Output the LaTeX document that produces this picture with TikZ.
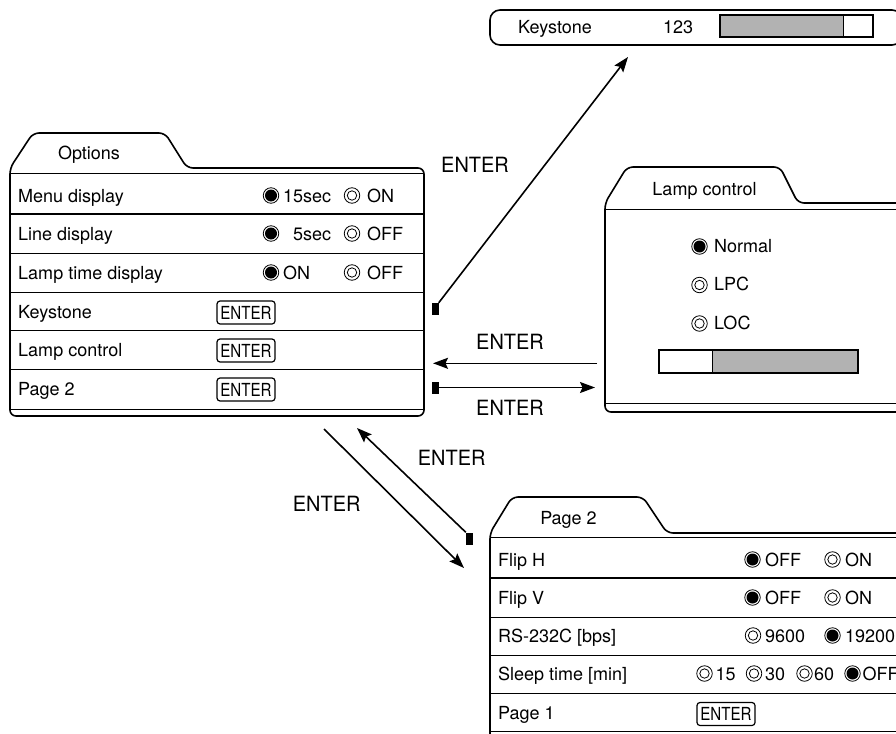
\documentclass[tikz,border=0pt]{standalone}
\usepackage{fontspec}
\usepackage{graphicx}
\setmainfont{TeX Gyre Heros}
\usetikzlibrary{arrows.meta}
\definecolor{bargray}{gray}{0.70}
\begin{document}
\begin{tikzpicture}[x=1pt,y=-1pt,
  outline/.style={line width=1.6pt, rounded corners=6pt},
  thinline/.style={line width=0.8pt},
  thickline/.style={line width=2.4pt},
  lbl/.style={anchor=base west, inner sep=0pt, font=\fontsize{18}{20}\selectfont},
  ttl/.style={anchor=base, inner sep=0pt, font=\fontsize{18}{20}\selectfont},
  albl/.style={anchor=base, inner sep=0pt, font=\fontsize{21}{22}\selectfont},
  radon/.style={circle, draw, line width=0.8pt, minimum size=15.5pt, inner sep=0pt,
    path picture={\fill (path picture bounding box.center) circle (6pt);}},
  radoff/.style={circle, draw, line width=0.8pt, minimum size=15.5pt, inner sep=0pt,
    path picture={\draw[line width=0.8pt] (path picture bounding box.center) circle (4.7pt);}},
  btn/.style={draw, line width=1.2pt, rounded corners=3pt, minimum width=58pt,
    minimum height=23pt, inner sep=0pt, font=\fontsize{18}{18}\selectfont},
  marker/.style={fill=black, draw=none, minimum width=7pt, minimum height=12pt, inner sep=0pt},
  arr/.style={line width=1.6pt, -{Stealth[length=15pt,width=11pt,inset=2.5pt]}}
]
\useasboundingbox (0,0) rectangle (896,733);
\clip (0,0) rectangle (896,733);

% ---------- Options panel ----------
\draw[outline] (10,300) -- (10,168) -- (33,133) -- (165,133) -- (187,168) -- (424,168) -- (424,416) -- (10,416) -- cycle;
\draw[thinline] (10,173) -- (424,173);
\draw[thickline] (10,214) -- (424,214);
\foreach \yy in {253,292,330,369} \draw[thinline] (10,\yy) -- (424,\yy);
\draw[thinline] (10,409) -- (424,409);
\node[ttl] (opttitle) at (89,159) {Options};

\node[lbl] (o1) at (18,202) {Menu display};
\node[radon] (o1a) at (271,195.5) {};
\node[lbl] (o1at) at (283,202) {15sec};
\node[radoff] (o1b) at (352,195.5) {};
\node[lbl] (o1bt) at (367,202) {ON};

\node[lbl] (o2) at (18,240) {Line display};
\node[radon] (o2a) at (271,233.5) {};
\node[lbl] (o2at) at (293,240) {5sec};
\node[radoff] (o2b) at (352,233.5) {};
\node[lbl] (o2bt) at (367,240) {OFF};

\node[lbl] (o3) at (18,279) {Lamp time display};
\node[radon] (o3a) at (271,272.5) {};
\node[lbl] (o3at) at (283,279) {ON};
\node[radoff] (o3b) at (352,272.5) {};
\node[lbl] (o3bt) at (367,279) {OFF};

\node[lbl] (o4) at (18,318) {Keystone};
\node[btn] (o4b) at (246,312.5) {\scalebox{0.84}[1]{ENTER}};
\node[lbl] (o5) at (18,356) {Lamp control};
\node[btn] (o5b) at (246,350.5) {\scalebox{0.84}[1]{ENTER}};
\node[lbl] (o6) at (18,395) {Page 2};
\node[btn] (o6b) at (246,389.5) {\scalebox{0.84}[1]{ENTER}};

% ---------- Keystone bar ----------
\draw[outline, rounded corners=10pt] (490,10) rectangle (902,45);
\node[lbl] (kst) at (518,34) {Keystone};
\node[lbl] (kval) at (663,34) {123};
\fill[bargray] (720,15) rectangle (843,37);
\draw[thinline] (843,15) -- (843,37);
\draw[line width=1.4pt] (720,15) rectangle (873,37);

% ---------- Lamp control panel ----------
\draw[outline] (910,203) -- (798,203) -- (780,167) -- (627,167) -- (605,203) -- (605,412) -- (910,412);
\draw[thinline] (605,209) -- (900,209);
\draw[thinline] (605,403) -- (900,403);
\node[ttl] (lctitle) at (704.5,195) {Lamp control};
\node[radon] (l1) at (699.5,246.5) {};
\node[lbl] (l1t) at (714,252.3) {Normal};
\node[radoff] (l2) at (699.5,285) {};
\node[lbl] (l2t) at (714,290.7) {LPC};
\node[radoff] (l3) at (699.5,323.5) {};
\node[lbl] (l3t) at (714,329) {LOC};
\fill[bargray] (712,350) rectangle (858,373);
\draw[thinline] (712,350) -- (712,373);
\draw[line width=1.4pt] (659,350) rectangle (858,373);

% ---------- Page 2 panel ----------
\draw[outline] (910,533) -- (667,533) -- (643,497) -- (512,497) -- (490,533) -- (490,745);
\draw[thinline] (490,537.5) -- (900,537.5);
\draw[thickline] (490,578) -- (900,578);
\foreach \yy in {617,655,693,731.5} \draw[thinline] (490,\yy) -- (900,\yy);
\node[ttl] (p2title) at (568.5,524.3) {Page 2};

\node[lbl] (p1) at (498,566) {Flip H};
\node[radon] (p1a) at (752.5,559.5) {};
\node[lbl] (p1at) at (765,566) {OFF};
\node[radoff] (p1b) at (832.5,559.5) {};
\node[lbl] (p1bt) at (845,566) {ON};

\node[lbl] (p2) at (498,604) {Flip V};
\node[radon] (p2a) at (752.5,597.5) {};
\node[lbl] (p2at) at (765,604) {OFF};
\node[radoff] (p2b) at (832.5,597.5) {};
\node[lbl] (p2bt) at (845,604) {ON};

\node[lbl] (p3) at (498,642) {RS-232C [bps]};
\node[radoff] (p3a) at (753,635.5) {};
\node[lbl] (p3at) at (765,642) {9600};
\node[radon] (p3b) at (832.5,635.5) {};
\node[lbl] (p3bt) at (845,642) {19200};

\node[lbl] (p4) at (498,680) {Sleep time [min]};
\node[radoff] (p4a) at (704.5,673.5) {};
\node[lbl] (p4at) at (715.5,680) {15};
\node[radoff] (p4b) at (754,673.5) {};
\node[lbl] (p4bt) at (765,680) {30};
\node[radoff] (p4c) at (804.5,673.5) {};
\node[lbl] (p4ct) at (814,680) {60};
\node[radon] (p4d) at (852.5,673.5) {};
\node[lbl] (p4dt) at (862.5,680) {OFF};

\node[lbl] (p5) at (498,719) {Page 1};
\node[btn] (p5b) at (726,714) {\scalebox{0.84}[1]{ENTER}};

% ---------- Connectors ----------
\node[marker] (mk1) at (435,309) {};
\coordinate (t1) at (628,57);
\draw[arr] (mk1.north east) -- (t1);
\node[albl] (e1) at (475,172) {\scalebox{0.95}[1]{ENTER}};

\coordinate (s2) at (597,363.3);
\coordinate (t2) at (433,363.3);
\draw[arr] (s2) -- (t2);
\node[albl] (e2) at (510,349) {\scalebox{0.95}[1]{ENTER}};

\node[marker] (mk2) at (435.5,387.5) {};
\coordinate (t3) at (595,387.5);
\draw[arr] (mk2.east) -- (t3);
\node[albl] (e3) at (510,415.7) {\scalebox{0.95}[1]{ENTER}};

\coordinate (s4) at (324,429);
\coordinate (t4) at (464,568);
\draw[arr] (s4) -- (t4);
\node[albl] (e4) at (326.7,511.7) {\scalebox{0.95}[1]{ENTER}};

\node[marker] (mk3) at (469.5,538.5) {};
\coordinate (t5) at (357,428);
\draw[arr] (mk3.north west) -- (t5);
\node[albl] (e5) at (451.7,465) {\scalebox{0.95}[1]{ENTER}};
\end{tikzpicture}
\end{document}
